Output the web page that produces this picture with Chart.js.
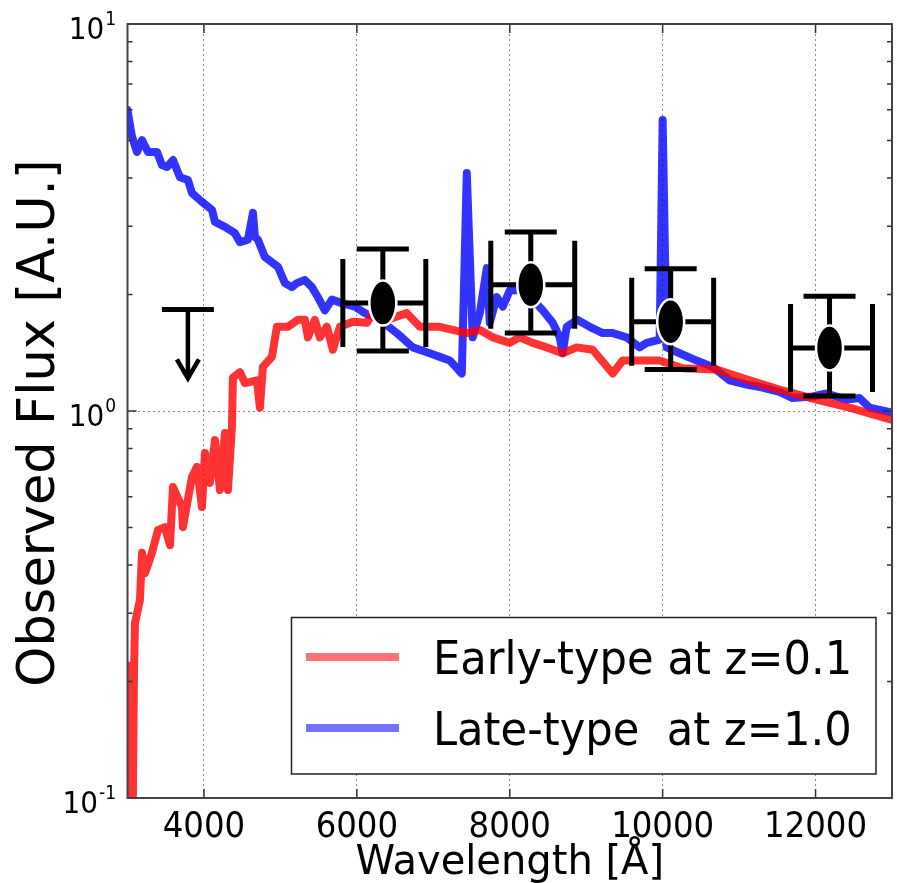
<!DOCTYPE html>
<html>
<head>
<meta charset="utf-8">
<script src="https://cdn.jsdelivr.net/npm/chart.js@4.4.0/dist/chart.umd.min.js"></script>
<style>
    html, body { margin: 0; padding: 0; background: #fff; }
    canvas { display: block; }
</style>
</head>
<body>
<canvas id="sedChart" width="897" height="883"></canvas>
<script>
// --- SPECTRA (wavelength in Å, flux in arbitrary units) ---
const earlyWave = [3000, 3025, 3040, 3060, 3085, 3098, 3163, 3190, 3229, 3320, 3399, 3490, 3556, 3595, 3712, 3725,
    3843, 3908, 3974, 4013, 4078, 4144, 4209, 4275, 4314, 4366, 4379, 4471, 4536, 4693, 4732, 4771, 4889, 4954,
    5098, 5229, 5320, 5359, 5451, 5516, 5608, 5686, 5778, 5948, 6131, 6209, 6392, 6653, 6824, 7085, 7255, 7438,
    7608, 7778, 8000, 8131, 8301, 8484, 8692, 8876, 9085, 9347, 9477, 9699, 9961, 10261, 10705, 11137, 11568,
    12013, 12444, 13000];
const earlyFlux = [0.22, 0.15, 0.17, 0.06, 0.21, 0.283, 0.325, 0.43, 0.381, 0.43, 0.493, 0.501, 0.45, 0.636, 0.565, 0.501,
    0.675, 0.717, 0.565, 0.779, 0.652, 0.841, 0.625, 0.877, 0.625, 0.909, 1.22, 1.26, 1.18, 1.20, 1.02, 1.30, 1.38, 1.65,
    1.65, 1.72, 1.72, 1.55, 1.72, 1.55, 1.65, 1.44, 1.65, 1.70, 1.69, 1.79, 1.72, 1.79, 1.65, 1.65, 1.62, 1.59,
    1.62, 1.55, 1.50, 1.55, 1.50, 1.46, 1.41, 1.46, 1.44, 1.25, 1.35, 1.35, 1.35, 1.29, 1.28, 1.20, 1.13,
    1.07, 1.02, 0.948];

const lateWave = [3000, 3059, 3124, 3190, 3268, 3386, 3451, 3516, 3595, 3686, 3791, 3843, 3974, 4105, 4144, 4275,
    4405, 4471, 4575, 4641, 4667, 4706, 4797, 4967, 5059, 5150, 5216, 5320, 5412, 5490, 5582, 5673, 5804, 5974,
    6105, 6301, 6523, 6732, 6954, 7085, 7216, 7373, 7438, 7516, 7608, 7700, 7739, 7830, 7909, 8000, 8105, 8300,
    8431, 8562, 8653, 8692, 8745, 8882, 9046, 9216, 9347, 9529, 9699, 9791, 9961, 10000, 10052, 10222, 10444,
    10653, 10876, 11098, 11307, 11529, 11699, 11961, 12144, 12405, 12575, 12706, 13000];
const lateFlux = [5.99, 5.11, 4.67, 5.01, 4.67, 4.67, 4.32, 4.27, 4.45, 4.02, 3.95, 3.66, 3.47, 3.31, 3.08, 2.99,
    2.88, 2.73, 2.77, 3.25, 2.82, 2.77, 2.50, 2.36, 2.14, 2.09, 2.14, 2.18, 2.09, 1.97, 1.82, 1.94, 1.90, 1.86,
    1.79, 1.72, 1.59, 1.46, 1.41, 1.38, 1.35, 1.25, 4.12, 1.55, 1.79, 2.34, 1.69, 1.97, 1.86, 2.05, 2.05, 1.94,
    1.82, 1.69, 1.55, 1.41, 1.65, 1.72, 1.65, 1.59, 1.59, 1.55, 1.46, 1.50, 1.53, 5.65, 1.46, 1.41, 1.35,
    1.30, 1.20, 1.17, 1.15, 1.12, 1.08, 1.09, 1.11, 1.07, 1.08, 1.02, 0.99];

// --- PHOTOMETRY (bin centre, bin edges, flux and its range) ---
const photWave = [6340, 8275, 10105, 12183];
const photWaveLo = [5817, 7752, 9595, 11673];
const photWaveHi = [6902, 8850, 10667, 12745];
const photFlux = [1.90, 2.12, 1.70, 1.455];
const photFluxLo = [1.43, 1.59, 1.28, 1.093];
const photFluxHi = [2.62, 2.90, 2.33, 1.98];

// upper limit in the blue band: bar at the limit, arrow down to the tip
const limitWave = [3790];
const limitFlux = [1.83];
const limitTip = [1.20];

// --- AXES ---
const xTicks = [4000, 6000, 8000, 10000, 12000];
const yTickExps = [-1, 0, 1];
const yMinorTicks = [0.2, 0.3, 0.4, 0.5, 0.6, 0.7, 0.8, 0.9, 2, 3, 4, 5, 6, 7, 8, 9];

const yTitle = 'Observed Flux [A.U.]';
const legendLabels = ['Early-type at z=0.1', 'Late-type  at z=1.0'];
const legendColors = ['rgba(255,0,0,0.55)', 'rgba(0,0,255,0.55)'];

const toXY = (xs, ys) => xs.map((x, i) => ({ x: x, y: ys[i] }));
const NARROW = '"Liberation Sans Narrow", "DejaVu Sans Condensed", sans-serif';

const decorPlugin = {
    id: 'sedDecor',
    beforeDraw(chart) {
        const ctx = chart.ctx;
        ctx.save();
        ctx.fillStyle = '#fff';
        ctx.fillRect(0, 0, chart.width, chart.height);
        ctx.restore();
    },
    afterDatasetsDraw(chart) {
        const ctx = chart.ctx;
        const xs = chart.scales.x, ys = chart.scales.y;
        ctx.save();
        ctx.strokeStyle = '#000';
        ctx.lineCap = 'butt';

        // error bars with caps, then the markers
        const meta = chart.getDatasetMeta(2);
        meta.data.forEach((pt, i) => {
            const cx = pt.x, cy = pt.y;
            const yHi = ys.getPixelForValue(photFluxHi[i]);
            const yLo = ys.getPixelForValue(photFluxLo[i]);
            const xLo = xs.getPixelForValue(photWaveLo[i]);
            const xHi = xs.getPixelForValue(photWaveHi[i]);
            ctx.lineWidth = 5;
            ctx.beginPath();
            ctx.moveTo(cx, yHi); ctx.lineTo(cx, yLo);
            ctx.moveTo(cx - 26, yHi); ctx.lineTo(cx + 26, yHi);
            ctx.moveTo(cx - 26, yLo); ctx.lineTo(cx + 26, yLo);
            ctx.moveTo(xLo, cy); ctx.lineTo(xHi, cy);
            ctx.moveTo(xLo, cy - 44); ctx.lineTo(xLo, cy + 44);
            ctx.moveTo(xHi, cy - 44); ctx.lineTo(xHi, cy + 44);
            ctx.stroke();
        });
        meta.data.forEach(pt => {
            ctx.beginPath();
            ctx.ellipse(pt.x, pt.y, 13.5, 22.5, 0, 0, Math.PI * 2);
            ctx.fillStyle = '#000';
            ctx.fill();
            ctx.lineWidth = 2.5;
            ctx.strokeStyle = '#fff';
            ctx.stroke();
        });

        // upper limit arrow
        ctx.strokeStyle = '#000';
        chart.getDatasetMeta(3).data.forEach((pt, i) => {
            const tip = ys.getPixelForValue(limitTip[i]);
            ctx.lineWidth = 5;
            ctx.beginPath();
            ctx.moveTo(pt.x - 26, pt.y); ctx.lineTo(pt.x + 26, pt.y);
            ctx.stroke();
            ctx.lineWidth = 4.5;
            ctx.lineJoin = 'miter';
            ctx.beginPath();
            ctx.moveTo(pt.x, pt.y); ctx.lineTo(pt.x, tip - 2);
            ctx.moveTo(pt.x - 11, tip - 21); ctx.lineTo(pt.x, tip - 2); ctx.lineTo(pt.x + 11, tip - 21);
            ctx.stroke();
        });
        ctx.restore();
    },
    afterDraw(chart) {
        const ctx = chart.ctx;
        const a = chart.chartArea;
        const xs = chart.scales.x, ys = chart.scales.y;
        ctx.save();

        // inward tick marks on all four sides
        ctx.strokeStyle = '#333';
        ctx.lineWidth = 1.5;
        ctx.beginPath();
        yMinorTicks.forEach(v => {
            const y = ys.getPixelForValue(v);
            ctx.moveTo(a.left, y); ctx.lineTo(a.left + 5, y);
            ctx.moveTo(a.right, y); ctx.lineTo(a.right - 5, y);
        });
        yTickExps.forEach(e => {
            const y = ys.getPixelForValue(Math.pow(10, e));
            ctx.moveTo(a.left, y); ctx.lineTo(a.left + 9, y);
            ctx.moveTo(a.right, y); ctx.lineTo(a.right - 9, y);
        });
        xTicks.forEach(v => {
            const x = xs.getPixelForValue(v);
            ctx.moveTo(x, a.bottom); ctx.lineTo(x, a.bottom - 9);
            ctx.moveTo(x, a.top); ctx.lineTo(x, a.top + 9);
        });
        ctx.stroke();

        // frame
        ctx.strokeStyle = '#444';
        ctx.lineWidth = 2;
        ctx.strokeRect(a.left, a.top, a.right - a.left, a.bottom - a.top);

        // y tick labels as powers of ten
        ctx.fillStyle = '#000';
        ctx.textBaseline = 'alphabetic';
        ctx.textAlign = 'left';
        yTickExps.forEach(e => {
            const y = ys.getPixelForValue(Math.pow(10, e));
            const expText = String(e);
            ctx.font = '31px ' + NARROW;
            const wBase = ctx.measureText('10').width;
            ctx.font = '19px ' + NARROW;
            const wExp = ctx.measureText(expText).width;
            const x0 = 115 - wBase - wExp;
            ctx.font = '31px ' + NARROW;
            ctx.fillText('10', x0, y + 15);
            ctx.font = '19px ' + NARROW;
            ctx.fillText(expText, x0 + wBase + 1, y + 1);
        });

        // y axis title, rotated
        ctx.save();
        ctx.translate(41, (a.top + a.bottom) / 2 + 12);
        ctx.rotate(-Math.PI / 2);
        ctx.textAlign = 'center';
        ctx.textBaseline = 'middle';
        ctx.font = '51px "DejaVu Sans", sans-serif';
        ctx.fillText(yTitle, 0, 0);
        ctx.restore();

        // legend box in the lower right corner
        const bx = 291.5, bw = a.right - 16 - bx;
        const bh = 156.5, by = a.bottom - 24 - bh;
        ctx.fillStyle = '#fff';
        ctx.fillRect(bx, by, bw, bh);
        ctx.strokeStyle = '#222';
        ctx.lineWidth = 1.5;
        ctx.strokeRect(bx, by, bw, bh);
        legendLabels.forEach((label, i) => {
            const ly = by + 39.5 + i * 71;
            ctx.strokeStyle = legendColors[i];
            ctx.lineWidth = 8;
            ctx.beginPath();
            ctx.moveTo(bx + 14.5, ly); ctx.lineTo(bx + 107.5, ly);
            ctx.stroke();
            ctx.save();
            ctx.translate(bx + 141.5, ly + 17);
            ctx.scale(0.92, 1);
            ctx.fillStyle = '#000';
            ctx.font = '47px "DejaVu Sans", sans-serif';
            ctx.fillText(label, 0, 0);
            ctx.restore();
        });
        ctx.restore();
    }
};

const lineStyle = {
    showLine: true,
    borderWidth: 8,
    borderJoinStyle: 'round',
    borderCapStyle: 'round',
    pointRadius: 0,
    tension: 0,
    clip: 0
};

const chart = new Chart(document.getElementById('sedChart'), {
    type: 'scatter',
    data: {
        datasets: [
            Object.assign({
                label: legendLabels[0],
                data: toXY(earlyWave, earlyFlux),
                borderColor: 'rgba(255,0,0,0.8)',
                order: 1
            }, lineStyle),
            Object.assign({
                label: legendLabels[1],
                data: toXY(lateWave, lateFlux),
                borderColor: 'rgba(0,0,255,0.8)',
                order: 2
            }, lineStyle),
            {
                label: 'photometry',
                data: toXY(photWave, photFlux),
                pointRadius: 0,
                order: 0
            },
            {
                label: 'upper limit',
                data: toXY(limitWave, limitFlux),
                pointRadius: 0,
                order: 0
            }
        ]
    },
    options: {
        responsive: false,
        devicePixelRatio: 1,
        animation: false,
        events: [],
        layout: { padding: { left: 0, right: 5, top: 24, bottom: 0 } },
        plugins: { legend: { display: false }, tooltip: { enabled: false } },
        scales: {
            x: {
                type: 'linear',
                min: 3000,
                max: 13000,
                afterBuildTicks: s => { s.ticks = xTicks.map(v => ({ value: v })); },
                afterFit: s => { s.height = 85; },
                ticks: {
                    color: '#000',
                    padding: 8,
                    maxRotation: 0,
                    autoSkip: false,
                    font: { family: NARROW, size: 36 },
                    callback: v => String(v)
                },
                grid: { color: '#8c8c8c', lineWidth: 1, drawTicks: false },
                border: { display: false, dash: [2, 3] },
                title: {
                    display: true,
                    text: 'Wavelength [Å]',
                    color: '#000',
                    padding: 0,
                    font: { family: '"DejaVu Sans", sans-serif', size: 40, lineHeight: 0.95 }
                }
            },
            y: {
                type: 'logarithmic',
                min: 0.1,
                max: 10,
                afterBuildTicks: s => { s.ticks = yTickExps.map(e => ({ value: Math.pow(10, e) })); },
                afterFit: s => { s.width = 127.5; },
                ticks: { display: false },
                grid: { color: '#8c8c8c', lineWidth: 1, drawTicks: false },
                border: { display: false, dash: [2, 3] },
                title: { display: false }
            }
        }
    },
    plugins: [decorPlugin]
});
</script>
</body>
</html>
